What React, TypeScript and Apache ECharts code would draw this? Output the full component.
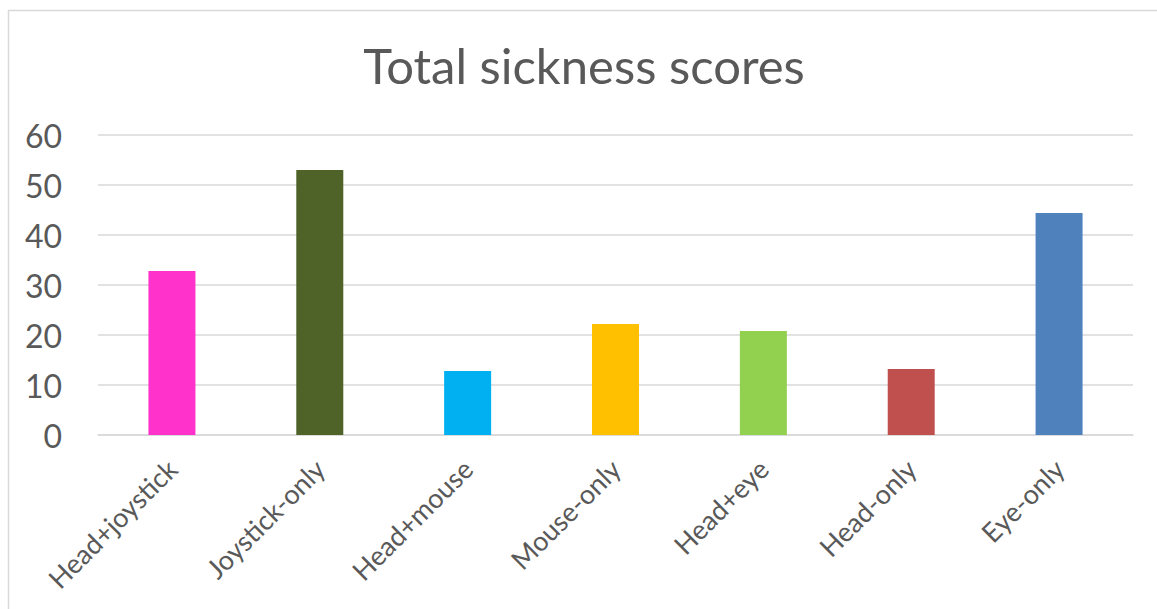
import React, { useEffect, useRef } from "react";
import * as echarts from "echarts";

const categories = ["Head+joystick", "Joystick-only", "Head+mouse", "Mouse-only", "Head+eye", "Head-only", "Eye-only"];
const values = [32.8, 53.0, 12.8, 22.2, 20.8, 13.2, 44.4];
const colors = ["#FF33CC", "#4F6228", "#00B0F0", "#FFC000", "#92D050", "#C0504D", "#4F81BD"];
const yTicks = [0, 10, 20, 30, 40, 50, 60];
const titleText = "Total sickness scores";

export default function App() {
  const ref = useRef<HTMLDivElement>(null);
  useEffect(() => {
    if (!ref.current) return;
    const chart = echarts.init(ref.current, undefined, { renderer: "svg" });
    chart.setOption({
      animation: false,
      backgroundColor: "#ffffff",
      textStyle: { fontFamily: "Lato" },
      graphic: [
        {
          type: "rect",
          shape: { x: 8.5, y: 10.5, width: 1200, height: 700 },
          style: { fill: "none", stroke: "#d9d9d9", lineWidth: 1.5 },
          silent: true,
        },
        {
          type: "text",
          x: 584,
          y: 65,
          style: {
            text: titleText,
            fill: "#595959",
            font: "49px Lato",
            textAlign: "center",
            textVerticalAlign: "middle",
          },
        },
      ],
      grid: { left: 98, right: 24, top: 135, bottom: 174, containLabel: false },
      xAxis: {
        type: "category",
        data: categories,
        axisLine: { show: true, lineStyle: { color: "#d9d9d9", width: 1.5 } },
        axisTick: { show: false },
        axisLabel: {
          rotate: 45,
          interval: 0,
          color: "#595959",
          fontSize: 27,
          fontFamily: "Lato",
          margin: 29,
        },
      },
      yAxis: {
        type: "value",
        min: yTicks[0],
        max: yTicks[yTicks.length - 1],
        interval: 10,
        axisLine: { show: false },
        axisTick: { show: false },
        splitLine: { lineStyle: { color: "#d9d9d9", width: 1.5 } },
        axisLabel: { color: "#595959", fontSize: 32, fontFamily: "Lato", margin: 36 },
      },
      series: [
        {
          type: "bar",
          barWidth: 47,
          data: values.map((v, i) => ({ value: v, itemStyle: { color: colors[i] } })),
        },
      ],
    });
    return () => chart.dispose();
  }, []);
  return <div ref={ref} style={{ position: "fixed", left: 0, top: 0, width: 1157, height: 609 }} />;
}
